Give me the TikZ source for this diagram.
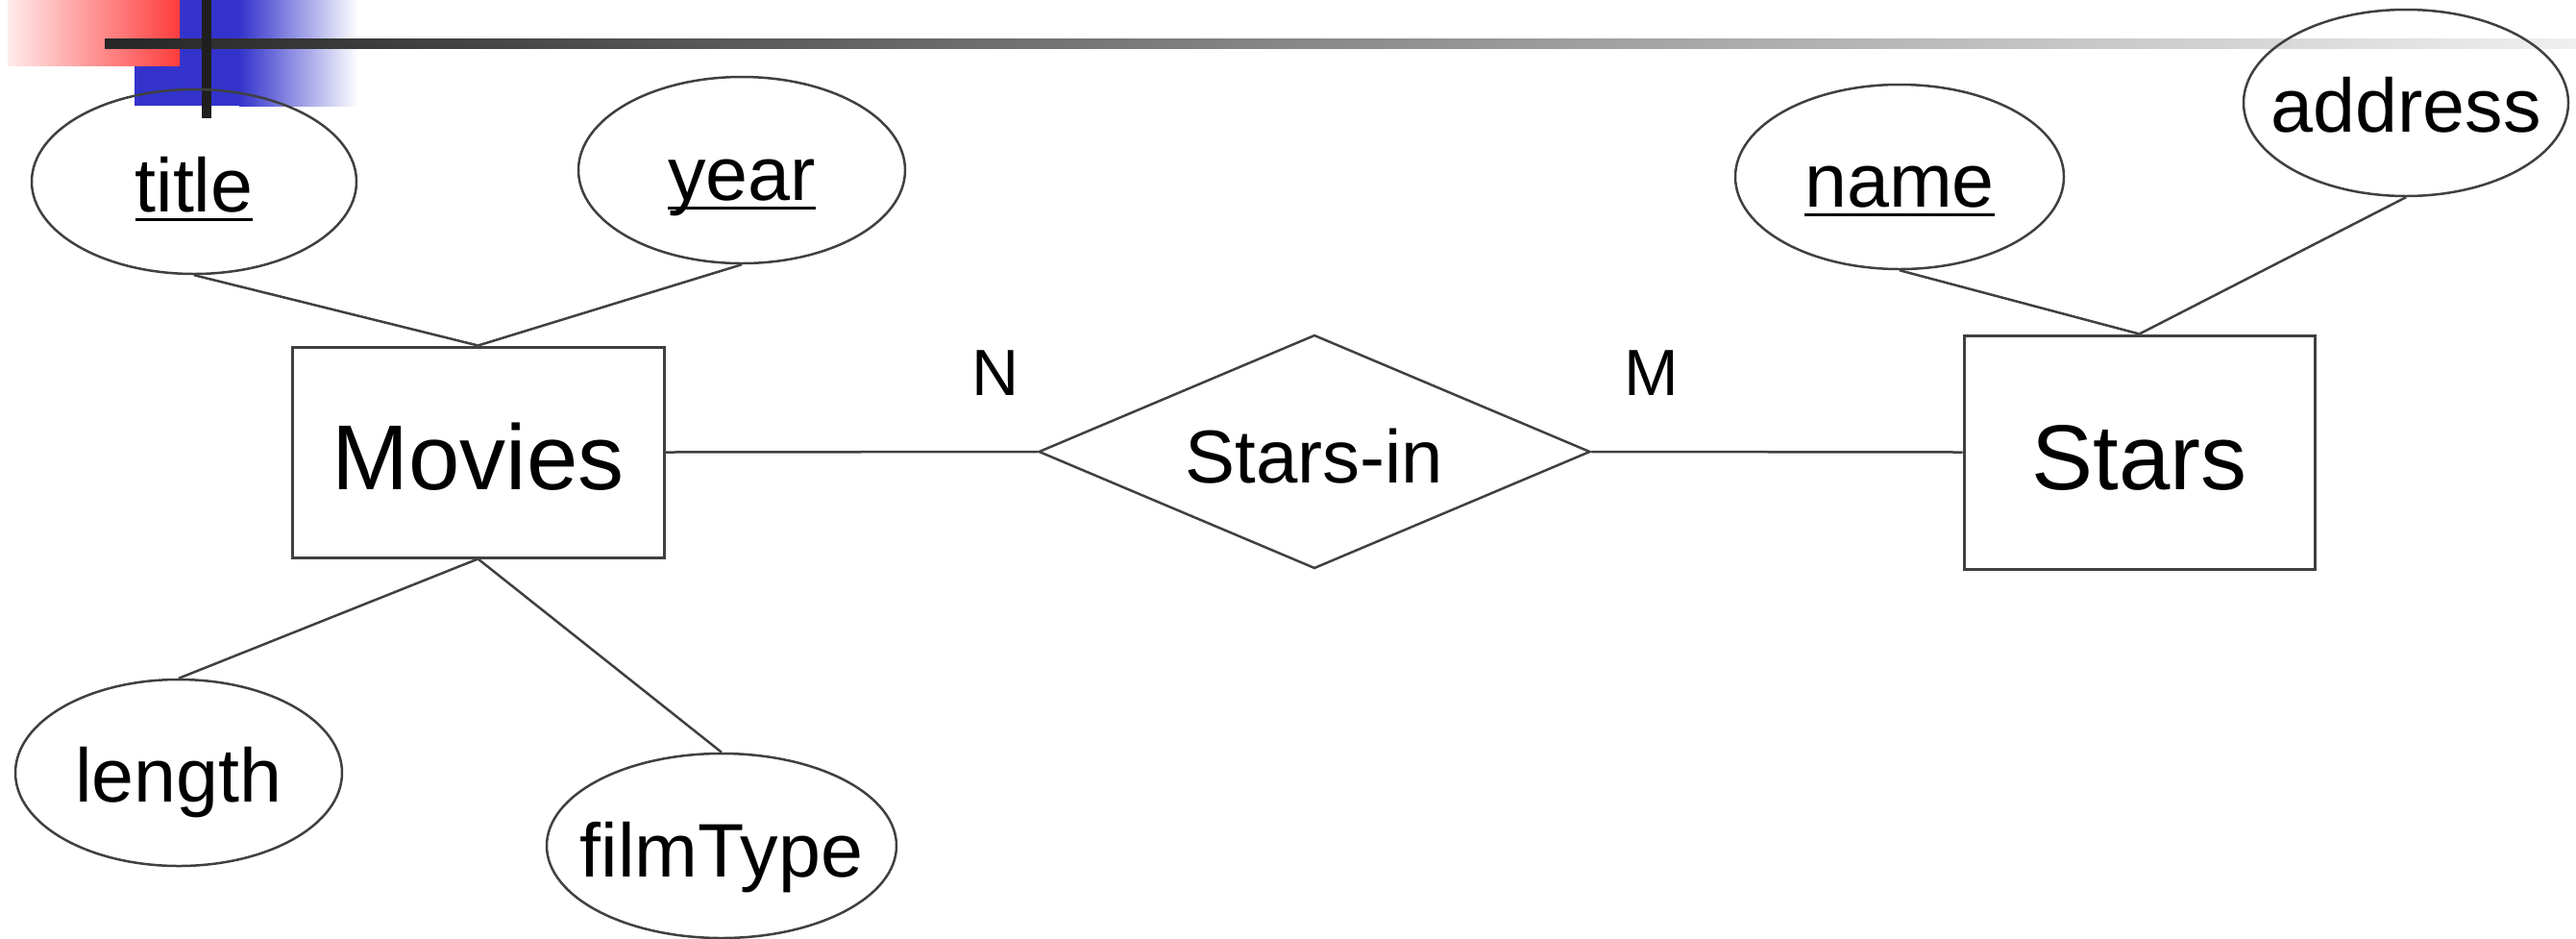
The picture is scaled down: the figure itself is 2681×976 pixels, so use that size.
\documentclass[tikz,border=0pt]{standalone}
\usepackage{fontspec}
\setmainfont{Liberation Sans}
\usetikzlibrary{shapes.geometric}
\definecolor{blueA}{RGB}{51,51,204}
\definecolor{redA}{RGB}{255,60,60}
\definecolor{pinkA}{RGB}{255,235,235}
\newsavebox\keybox
\newcommand\keyul[1]{\sbox\keybox{#1}\rlap{\smash{\rule[-5pt]{\wd\keybox}{1.75pt}}}\usebox\keybox}
% text placed with its baseline #1 below the node centre, no size of its own
\newcommand\placetext[2]{\makebox[0pt]{\raisebox{-#1}[0pt][0pt]{#2}}}
\begin{document}
\begin{tikzpicture}[x=0.5pt,y=-0.5pt,
 attr/.style={ellipse,draw=black!75,line width=1.25pt,inner sep=0pt,font=\fontsize{39.5}{47}\selectfont},
 entity/.style={rectangle,draw=black!75,line width=1.5pt,inner sep=0pt,font=\fontsize{48}{58}\selectfont},
 rel/.style={diamond,draw=black!75,line width=1.25pt,inner sep=0pt,font=\fontsize{39}{47}\selectfont},
 conn/.style={draw=black!75,line width=1.25pt},
 card/.style={font=\fontsize{34}{41}\selectfont,inner sep=0pt}]
\useasboundingbox (0,0) rectangle (2681,976);
% decoration
\fill[blueA] (140,0) rectangle (249,110);
\shade[left color=blueA,right color=white] (249,0) rectangle (373,110);
\shade[left color=pinkA,right color=redA] (8,0) rectangle (187,68);
\shade[left color=black!85,right color=black!6] (109,40) rectangle (2681,50);
\fill[black!88] (210,0) rectangle (220,123);
% attributes
\node[attr,minimum width=169pt,minimum height=96pt] (title) at (202,189) {\placetext{15.5pt}{\keyul{title}}};
\node[attr,minimum width=170pt,minimum height=97pt] (year) at (772,177) {\placetext{15.5pt}{\keyul{year}}};
\node[attr,minimum width=171pt,minimum height=96pt] (name) at (1977,184) {\placetext{15.5pt}{\keyul{name}}};
\node[attr,minimum width=169pt,minimum height=97pt] (address) at (2504,107) {\placetext{15pt}{address}};
\node[attr,minimum width=170pt,minimum height=97pt] (length) at (186,804) {\placetext{15pt}{length}};
\node[attr,minimum width=182pt,minimum height=96pt] (filmtype) at (751,880) {\placetext{16pt}{filmType}};
% entities and relationship
\node[entity,minimum width=193.5pt,minimum height=109.5pt] (movies) at (497.5,470.5) {\placetext{19.25pt}{Movies}};
\node[entity,minimum width=182.5pt,minimum height=121.5pt] (stars) at (2226.5,470.5) {\placetext{19.5pt}{Stars}};
\node[rel,minimum width=287pt,minimum height=121.5pt] (starsin) at (1368,470) {\placetext{16pt}{Stars-in}};
\node[card] (n) at (1036,388) {N};
\node[card] (m) at (1719,388) {M};
% connectors
\draw[conn] (title.south) -- (movies.north);
\draw[conn] (year.south) -- (movies.north);
\draw[conn] (movies.south) -- (length.north);
\draw[conn] (movies.south) -- (filmtype.north);
\draw[conn] (movies.east) -- (starsin.west);
\draw[conn] (starsin.east) -- (stars.west);
\draw[conn] (stars.north) -- (name.south);
\draw[conn] (stars.north) -- (address.south);
\end{tikzpicture}
\end{document}
